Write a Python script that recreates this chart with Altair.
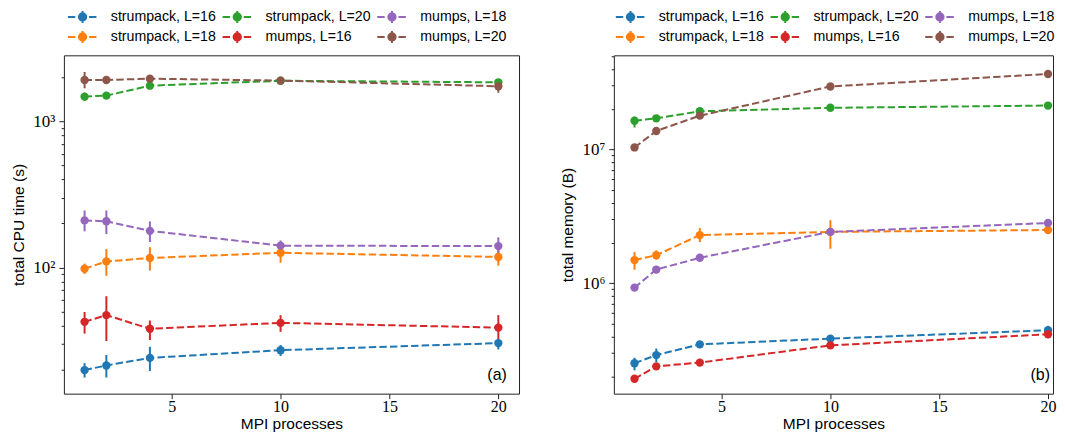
import altair as alt
import pandas as pd

# ---------------- data ----------------
procs = [1, 2, 4, 10, 20]
series_names = ["strumpack, L=16", "strumpack, L=18", "strumpack, L=20",
                "mumps, L=16", "mumps, L=18", "mumps, L=20"]
series_colors = ["#1f77b4", "#ff7f0e", "#2ca02c", "#d62728", "#9467bd", "#8c564b"]

# total CPU time (s): mean, lower, upper
cpu_s16 = [19.8, 21.3, 24.0, 27.1, 30.3]
cpu_s16_lo = [17.6, 17.6, 19.5, 24.7, 27.4]
cpu_s16_hi = [22.1, 25.1, 28.6, 29.4, 32.1]
cpu_s18 = [98, 110, 116, 126, 118]
cpu_s18_lo = [90.2, 87.7, 95.1, 107.6, 102.8]
cpu_s18_hi = [106.2, 133.7, 137.7, 143.2, 135.8]
cpu_s20 = [1480, 1503, 1758, 1900, 1854]
cpu_s20_lo = [1384, 1440, 1700, 1850, 1800]
cpu_s20_hi = [1574, 1570, 1820, 1950, 1910]
cpu_m16 = [42.4, 47.1, 38.0, 41.7, 38.7]
cpu_m16_lo = [35.2, 31.3, 31.8, 36.2, 31.6]
cpu_m16_hi = [49.5, 63.5, 43.3, 47.1, 47.1]
cpu_m18 = [210, 207, 178, 141, 140]
cpu_m18_lo = [176.6, 169, 149.3, 128.8, 123.6]
cpu_m18_hi = [245.5, 245.5, 206.5, 153.1, 160.7]
cpu_m20 = [1924, 1924, 1963, 1905, 1742]
cpu_m20_lo = [1687, 1840, 1890, 1860, 1574]
cpu_m20_hi = [2183, 2010, 2040, 1950, 1932]

# total memory (B): mean, lower, upper
mem_s16 = [2.52e5, 2.90e5, 3.49e5, 3.85e5, 4.45e5]
mem_s16_lo = [2.23e5, 2.57e5, 3.35e5, 3.75e5, 4.23e5]
mem_s16_hi = [2.77e5, 3.25e5, 3.64e5, 3.95e5, 4.80e5]
mem_s18 = [1.49e6, 1.62e6, 2.29e6, 2.42e6, 2.50e6]
mem_s18_lo = [1.26e6, 1.50e6, 2.03e6, 1.81e6, 2.42e6]
mem_s18_hi = [1.71e6, 1.76e6, 2.59e6, 2.96e6, 2.58e6]
mem_s20 = [1.64e7, 1.71e7, 1.93e7, 2.05e7, 2.13e7]
mem_s20_lo = [1.46e7, 1.62e7, 1.85e7, 1.98e7, 2.05e7]
mem_s20_hi = [1.76e7, 1.80e7, 2.01e7, 2.12e7, 2.21e7]
mem_m16 = [1.93e5, 2.39e5, 2.55e5, 3.43e5, 4.15e5]
mem_m16_lo = [1.88e5, 2.33e5, 2.49e5, 3.35e5, 4.05e5]
mem_m16_hi = [1.98e5, 2.45e5, 2.61e5, 3.51e5, 4.25e5]
mem_m18 = [9.27e5, 1.265e6, 1.55e6, 2.42e6, 2.82e6]
mem_m18_lo = [9.10e5, 1.24e6, 1.52e6, 2.38e6, 2.77e6]
mem_m18_hi = [9.45e5, 1.29e6, 1.58e6, 2.46e6, 2.87e6]
mem_m20 = [1.036e7, 1.375e7, 1.79e7, 2.96e7, 3.67e7]
mem_m20_lo = [1.01e7, 1.34e7, 1.75e7, 2.90e7, 3.60e7]
mem_m20_hi = [1.06e7, 1.41e7, 1.83e7, 3.02e7, 3.74e7]

cpu_ticks = [20, 30, 40, 50, 60, 70, 80, 90, 100, 200, 300, 400, 500, 600, 700,
             800, 900, 1000, 2000]
mem_ticks = [2e5, 3e5, 4e5, 5e5, 6e5, 7e5, 8e5, 9e5, 1e6, 2e6, 3e6, 4e6, 5e6, 6e6,
             7e6, 8e6, 9e6, 1e7, 2e7, 3e7, 4e7, 5e7]
x_ticks = [5, 10, 15, 20]

cpu_sets = [(cpu_s16, cpu_s16_lo, cpu_s16_hi), (cpu_s18, cpu_s18_lo, cpu_s18_hi),
            (cpu_s20, cpu_s20_lo, cpu_s20_hi), (cpu_m16, cpu_m16_lo, cpu_m16_hi),
            (cpu_m18, cpu_m18_lo, cpu_m18_hi), (cpu_m20, cpu_m20_lo, cpu_m20_hi)]
mem_sets = [(mem_s16, mem_s16_lo, mem_s16_hi), (mem_s18, mem_s18_lo, mem_s18_hi),
            (mem_s20, mem_s20_lo, mem_s20_hi), (mem_m16, mem_m16_lo, mem_m16_hi),
            (mem_m18, mem_m18_lo, mem_m18_hi), (mem_m20, mem_m20_lo, mem_m20_hi)]


def to_frame(sets):
    rows = []
    for k, (name, (m, lo, hi)) in enumerate(zip(series_names, sets)):
        for p, a, b, c in zip(procs, m, lo, hi):
            rows.append({"series": name, "z": k, "procs": p, "value": a, "lo": b, "hi": c})
    return pd.DataFrame(rows)


cpu_df = to_frame(cpu_sets)
mem_df = to_frame(mem_sets)

# legend glyph: dash, marker with error bar, dash (unit = 6 px, origin 7.1 px into entry)
legend_symbol = ("M-1.183,0H0.05M2.35,0H3.583M1.267,-1V1"
                 "M1.877,0A0.61,0.61,0,1,1,0.657,0A0.61,0.61,0,1,1,1.877,0Z")

is_pow = "abs(log(datum.value)/LN10 - round(log(datum.value)/LN10)) < 0.001"
exp_ = "round(log(datum.value)/LN10)"
label_expr = (f"{is_pow} ? ({exp_} == 2 ? '10\u00b2' : {exp_} == 3 ? '10\u00b3' : "
              f"{exp_} == 6 ? '10\u2076' : {exp_} == 7 ? '10\u2077' : '') : ''")

PLOT_H = 339


def panel(df, ytitle, ydomain, yticks, width, xdomain, tag, tagx, legx):
    base = alt.Chart(df)
    x = alt.X("procs:Q", title="MPI processes",
              scale=alt.Scale(domain=xdomain, nice=False, zero=False),
              axis=alt.Axis(values=x_ticks, grid=False, tickSize=5, labelPadding=0,
                            titlePadding=2, domain=False))
    y = alt.Y("value:Q", title=ytitle,
              scale=alt.Scale(type="log", domain=ydomain, nice=False),
              axis=alt.Axis(values=yticks, grid=False, labelExpr=label_expr,
                            labelOverlap=False, labelPadding=4, titlePadding=6,
                            labelFontSize=17, domain=False,
                            tickSize={"condition": {"test": is_pow, "value": 5},
                                      "value": 2.7}))
    color = alt.Color("series:N",
                      scale=alt.Scale(domain=series_names, range=series_colors),
                      legend=alt.Legend(title=None, orient="none", legendX=legx, legendY=-46,
                                        columns=3, symbolType=legend_symbol,
                                        symbolSize=144, symbolStrokeWidth=2,
                                        symbolOffset=0, labelOffset=28.8,
                                        columnPadding=2, rowPadding=-0.5))
    lines = base.mark_line(strokeDash=[7.4, 3.2], strokeWidth=2).encode(
        x=x, y=y, color=color, detail="series:N")
    bars = base.mark_rule(strokeWidth=2).encode(x=x, y=alt.Y("lo:Q"), y2="hi:Q", color=color)
    pts = base.mark_point(filled=True, size=70, opacity=1).encode(x=x, y=y, color=color)
    tag_df = pd.DataFrame({"tag": [tag]})
    tag_text = alt.Chart(tag_df).mark_text(align="right", baseline="middle", fontSize=16,
                                           font="Liberation Sans", color="black").encode(
        x=alt.value(tagx), y=alt.value(PLOT_H - 18.3), text="tag:N")
    return alt.layer(lines, bars, pts, tag_text).properties(width=width, height=PLOT_H)


left = panel(cpu_df, "total CPU time (s)", [13.65, 2838], cpu_ticks, 456, [0.05, 20.95],
             "(a)", 443.8, 4)
right = panel(mem_df, "total memory (B)", [1.493e5, 5.06e7], mem_ticks, 440, [0.05, 20.23],
              "(b)", 437, 2)

chart = alt.hconcat(left, right, spacing=40).resolve_scale(color="independent").resolve_legend(
    color="independent"
).properties(padding={"left": 3, "top": 0, "right": 0, "bottom": 0}).configure_view(
    stroke="#222", strokeWidth=1
).configure_axis(
    labelFont="Liberation Serif", labelFontSize=16, labelColor="black",
    titleFont="Liberation Sans", titleFontSize=15.5, titleFontWeight="normal", titleColor="black",
    tickColor="#222", tickWidth=1
).configure_legend(
    labelFont="Liberation Sans", labelFontSize=14.2, labelColor="black"
)

chart.save("out.html", embed_options={"renderer": "svg", "actions": False})
